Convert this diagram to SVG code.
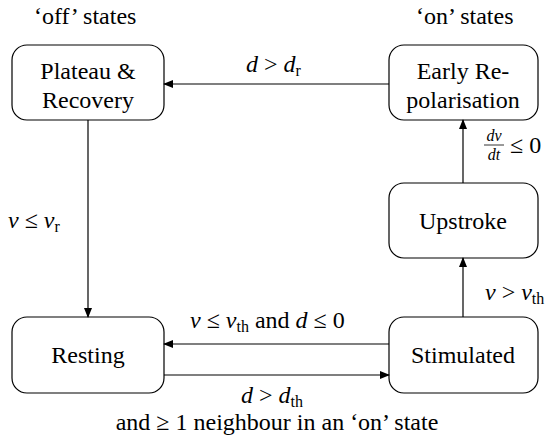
<svg xmlns="http://www.w3.org/2000/svg" width="553" height="439" viewBox="0 0 553 439">
<style>
.box{fill:#fff;stroke:#000;stroke-width:1.2}
.e{stroke:#000;stroke-width:1.2;fill:none}
</style>
<defs>
<marker id="ah" markerWidth="10" markerHeight="8" refX="9" refY="4" orient="auto" markerUnits="userSpaceOnUse">
<path d="M0,0 L10,4 L0,8 Z" fill="#000"/>
</marker>
</defs>
<text font-family="Liberation Serif, serif" font-size="24" x="34" y="24">‘off’ states</text>
<text font-family="Liberation Serif, serif" font-size="24" x="416" y="24">‘on’ states</text>
<g id="plateau">
<rect class="box" x="12" y="45" width="152" height="75" rx="15"/>
<text font-family="Liberation Serif, serif" font-size="24" text-anchor="middle" x="88" y="79">Plateau &amp;</text>
<text font-family="Liberation Serif, serif" font-size="24" text-anchor="middle" x="88" y="108">Recovery</text>
</g>
<g id="early">
<rect class="box" x="389" y="45" width="149" height="75" rx="15"/>
<text font-family="Liberation Serif, serif" font-size="24" text-anchor="middle" x="463" y="79">Early Re-</text>
<text font-family="Liberation Serif, serif" font-size="24" text-anchor="middle" x="463" y="108">polarisation</text>
</g>
<g id="upstroke">
<rect class="box" x="389" y="183" width="149" height="75" rx="15"/>
<text font-family="Liberation Serif, serif" font-size="24" text-anchor="middle" x="463" y="229">Upstroke</text>
</g>
<g id="resting">
<rect class="box" x="12" y="317" width="152" height="76" rx="15"/>
<text font-family="Liberation Serif, serif" font-size="24" text-anchor="middle" x="88" y="363">Resting</text>
</g>
<g id="stimulated">
<rect class="box" x="389" y="317" width="149" height="76" rx="15"/>
<text font-family="Liberation Serif, serif" font-size="24" text-anchor="middle" x="463" y="363">Stimulated</text>
</g>
<g id="connectors">
<line class="e" x1="389" y1="84" x2="164" y2="84" marker-end="url(#ah)"/>
<line class="e" x1="463" y1="183" x2="463" y2="120" marker-end="url(#ah)"/>
<line class="e" x1="463" y1="317" x2="463" y2="258" marker-end="url(#ah)"/>
<line class="e" x1="88" y1="120" x2="88" y2="317" marker-end="url(#ah)"/>
<line class="e" x1="389" y1="344" x2="164" y2="344" marker-end="url(#ah)"/>
<line class="e" x1="164" y1="375" x2="389" y2="375" marker-end="url(#ah)"/>
</g>
<g id="labels" font-family="Liberation Serif, serif" font-size="24">
<text font-family="Liberation Serif, serif" x="246" y="72"><tspan font-style="italic">d</tspan> &gt; <tspan font-style="italic">d</tspan><tspan font-size="16" dy="4">r</tspan></text>
<text font-family="Liberation Serif, serif" x="8" y="228"><tspan font-style="italic">v</tspan> ≤ <tspan font-style="italic">v</tspan><tspan font-size="16" dy="4">r</tspan></text>
<text font-family="Liberation Serif, serif" x="485" y="300"><tspan font-style="italic">v</tspan> &gt; <tspan font-style="italic">v</tspan><tspan font-size="16" dy="4">th</tspan></text>
<text font-family="Liberation Serif, serif" font-size="16" font-style="italic" text-anchor="middle" x="494" y="141">dv</text>
<line x1="484" y1="145" x2="504" y2="145" stroke="#000" stroke-width="0.8"/>
<text font-family="Liberation Serif, serif" font-size="16" font-style="italic" text-anchor="middle" x="494" y="160">dt</text>
<text font-family="Liberation Serif, serif" x="510" y="153">≤ 0</text>
<text font-family="Liberation Serif, serif" x="190" y="328"><tspan font-style="italic">v</tspan> ≤ <tspan font-style="italic">v</tspan><tspan font-size="16" dy="4">th</tspan><tspan dy="-4"> and </tspan><tspan font-style="italic">d</tspan> ≤ 0</text>
<text font-family="Liberation Serif, serif" x="241" y="403"><tspan font-style="italic">d</tspan> &gt; <tspan font-style="italic">d</tspan><tspan font-size="16" dy="4">th</tspan></text>
<text font-family="Liberation Serif, serif" text-anchor="middle" x="277" y="430">and ≥ 1 neighbour in an ‘on’ state</text>
</g>
</svg>
